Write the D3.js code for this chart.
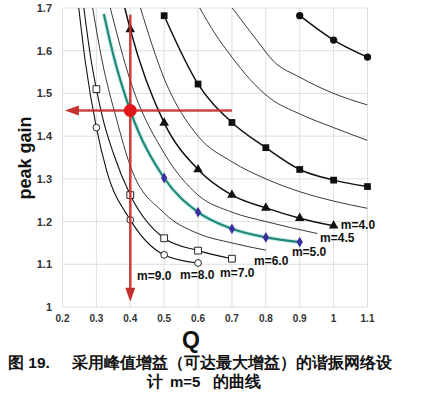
<!DOCTYPE html>
<html>
<head>
<meta charset="utf-8">
<script src="https://cdn.jsdelivr.net/npm/d3@7"></script>
<style>
  body { margin: 0; background: #fff; }
  text { font-family: "Liberation Sans", Arial, sans-serif; }
</style>
</head>
<body>
<div id="chart"></div>
<script>
// tick values and labels
var xTicks = [0.2, 0.3, 0.4, 0.5, 0.6, 0.7, 0.8, 0.9, 1.0, 1.1];
var xTickLabels = ["0.2", "0.3", "0.4", "0.5", "0.6", "0.7", "0.8", "0.9", "1", "1.1"];
var yTicks = [1, 1.1, 1.2, 1.3, 1.4, 1.5, 1.6, 1.7];
var yTickLabels = ["1", "1.1", "1.2", "1.3", "1.4", "1.5", "1.6", "1.7"];

// curves, [Q, peak gain]
var sDots    = [[0.9, 1.682], [1.0, 1.625], [1.1, 1.585]];
var sThinB   = [[0.701, 1.70], [0.773, 1.625], [0.822, 1.576], [0.9, 1.538], [1.0, 1.50], [1.1, 1.473]];
var sThinA   = [[0.605, 1.70], [0.65, 1.64], [0.7, 1.585], [0.753, 1.533], [0.812, 1.489], [0.9, 1.452], [1.0, 1.42], [1.1, 1.39]];
var sSquares = [[0.5, 1.682], [0.6, 1.522], [0.7, 1.432], [0.8, 1.373], [0.9, 1.322], [1.0, 1.297], [1.1, 1.282]];
var sThin35  = [[0.43, 1.70], [0.5, 1.535], [0.6, 1.40], [0.7, 1.34], [0.8, 1.30], [0.9, 1.27], [1.0, 1.248], [1.1, 1.231]];
var m40 = [[0.384, 1.70], [0.4, 1.65], [0.5, 1.431], [0.6, 1.322], [0.7, 1.262], [0.8, 1.232], [0.9, 1.208], [1.0, 1.19]];
var m45 = [[0.341, 1.70], [0.4, 1.53], [0.5, 1.36], [0.6, 1.262], [0.7, 1.222], [0.8, 1.20], [0.952, 1.172]];
var m50 = [[0.322, 1.686], [0.35, 1.59], [0.4, 1.46], [0.5, 1.302], [0.6, 1.222], [0.7, 1.183], [0.8, 1.163], [0.9, 1.152]];
var m60 = [[0.289, 1.70], [0.317, 1.576], [0.36, 1.438], [0.4, 1.33], [0.5, 1.22], [0.6, 1.172], [0.7, 1.15], [0.8, 1.133]];
var m70 = [[0.263, 1.70], [0.282, 1.59], [0.3, 1.51], [0.32, 1.438], [0.35, 1.36], [0.4, 1.262], [0.5, 1.161], [0.6, 1.132], [0.7, 1.113]];
var m80 = [[0.248, 1.70], [0.267, 1.576], [0.3, 1.42], [0.33, 1.32], [0.4, 1.204], [0.5, 1.122], [0.6, 1.103]];

// Q values that carry a marker
var marksDots = [0.9, 1.0, 1.1];
var marksSquares = [0.5, 0.6, 0.7, 0.8, 0.9, 1.0, 1.1];
var marks40 = [0.4, 0.5, 0.6, 0.7, 0.8, 0.9, 1.0];
var marks50 = [0.5, 0.6, 0.7, 0.8, 0.9];
var marks70 = [0.3, 0.4, 0.5, 0.6, 0.7];
var marks80 = [0.3, 0.4, 0.5, 0.6];

// curve labels and where they sit [Q, gain]
var labelText = ["m=4.0", "m=4.5", "m=5.0", "m=6.0", "m=7.0", "m=8.0", "m=9.0"];
var labelAt = [[1.021, 1.192], [0.96, 1.162], [0.877, 1.129], [0.765, 1.108], [0.665, 1.08], [0.547, 1.075], [0.42, 1.073]];

// design point and arrows
var designPoint = [0.4, 1.46];
var arrowDown = [[0.4, 1.684], [0.4, 1.012]];
var arrowLeft = [[0.7, 1.46], [0.207, 1.46]];

var width = 428, height = 398;
var x = d3.scaleLinear().domain([0.2, 1.1]).range([62.5, 367.5]);
var y = d3.scaleLinear().domain([1, 1.7]).range([307, 8]);

var svg = d3.select("#chart").append("svg")
  .attr("width", width)
  .attr("height", height);

// grid
svg.append("g").selectAll("line").data(xTicks).enter().append("line")
  .attr("x1", function(d) { return x(d); }).attr("x2", function(d) { return x(d); })
  .attr("y1", y(1)).attr("y2", y(1.7))
  .attr("stroke", "#dedede").attr("stroke-width", 1);
svg.append("g").selectAll("line").data(yTicks).enter().append("line")
  .attr("y1", function(d) { return y(d); }).attr("y2", function(d) { return y(d); })
  .attr("x1", x(0.2)).attr("x2", x(1.1))
  .attr("stroke", "#dedede").attr("stroke-width", 1);

// tick labels
svg.append("g").selectAll("text").data(xTicks).enter().append("text")
  .attr("x", function(d) { return x(d); })
  .attr("y", 322)
  .attr("text-anchor", "middle")
  .attr("font-size", "10px").attr("font-weight", "bold").attr("fill", "#333")
  .text(function(d, i) { return xTickLabels[i]; });
svg.append("g").selectAll("text").data(yTicks).enter().append("text")
  .attr("x", 52)
  .attr("y", function(d) { return y(d) + 4; })
  .attr("text-anchor", "end")
  .attr("font-size", "11px").attr("font-weight", "bold").attr("fill", "#333")
  .text(function(d, i) { return yTickLabels[i]; });

// axis titles
svg.append("text")
  .attr("transform", "translate(31,158) rotate(-90)")
  .attr("text-anchor", "middle")
  .attr("font-size", "18px").attr("font-weight", "bold").attr("fill", "#111")
  .text("peak gain");
svg.append("text")
  .attr("x", 191).attr("y", 348)
  .attr("text-anchor", "middle")
  .attr("font-size", "23px").attr("font-weight", "bold").attr("fill", "#111")
  .text("Q");

svg.append("clipPath").attr("id", "plot").append("rect")
  .attr("x", x(0.2)).attr("y", y(1.7))
  .attr("width", x(1.1) - x(0.2)).attr("height", y(1) - y(1.7));

var line = d3.line()
  .x(function(d) { return x(d[0]); })
  .y(function(d) { return y(d[1]); })
  .curve(d3.curveMonotoneX);

var curves = [
  { pts: sDots, w: 1.5, c: "#111", marks: marksDots, sym: d3.symbolCircle, size: 42, fill: "#111" },
  { pts: sThinB, w: 0.9, c: "#222" },
  { pts: sThinA, w: 0.9, c: "#222" },
  { pts: sSquares, w: 1.5, c: "#111", marks: marksSquares, sym: d3.symbolSquare, size: 46, fill: "#111" },
  { pts: sThin35, w: 0.9, c: "#222" },
  { pts: m40, w: 1.5, c: "#111", marks: marks40, sym: d3.symbolTriangle, size: 40, fill: "#111" },
  { pts: m45, w: 0.9, c: "#222" },
  { pts: m60, w: 0.9, c: "#222" },
  { pts: m70, w: 1.1, c: "#111", marks: marks70, sym: d3.symbolSquare, size: 46, fill: "#fff" },
  { pts: m80, w: 1.1, c: "#111", marks: marks80, sym: d3.symbolCircle, size: 36, fill: "#fff" }
];

var plot = svg.append("g").attr("clip-path", "url(#plot)");

// teal m=5 curve with a pale halo
plot.append("path").datum(m50).attr("d", line)
  .attr("fill", "none").attr("stroke", "#cdf1ec").attr("stroke-width", 4.5);

curves.forEach(function(cv) {
  plot.append("path").datum(cv.pts).attr("d", line)
    .attr("fill", "none").attr("stroke", cv.c).attr("stroke-width", cv.w);
});

plot.append("path").datum(m50).attr("d", line)
  .attr("fill", "none").attr("stroke", "#23877a").attr("stroke-width", 2.2);

// markers
curves.forEach(function(cv) {
  if (!cv.marks) return;
  var pts = cv.pts.filter(function(p) { return cv.marks.indexOf(p[0]) >= 0; });
  svg.append("g").selectAll("path").data(pts).enter().append("path")
    .attr("d", d3.symbol().type(cv.sym).size(cv.size))
    .attr("transform", function(d) { return "translate(" + x(d[0]) + "," + y(d[1]) + ")"; })
    .attr("fill", cv.fill).attr("stroke", "#111").attr("stroke-width", cv.fill === "#fff" ? 0.9 : 0);
});
var m50marks = m50.filter(function(p) { return marks50.indexOf(p[0]) >= 0; });
svg.append("g").selectAll("path").data(m50marks).enter().append("path")
  .attr("d", d3.symbol().type(d3.symbolDiamond).size(34))
  .attr("transform", function(d) { return "translate(" + x(d[0]) + "," + y(d[1]) + ")"; })
  .attr("fill", "#3a2f9e");

// curve labels
svg.append("g").selectAll("text").data(labelText).enter().append("text")
  .attr("x", function(d, i) { return x(labelAt[i][0]); })
  .attr("y", function(d, i) { return y(labelAt[i][1]) + 4.5; })
  .attr("font-size", "12px").attr("font-weight", "bold").attr("fill", "#111")
  .text(function(d) { return d; });

// red design arrows
var red = "#c4302c";
svg.append("line")
  .attr("x1", x(arrowDown[0][0])).attr("y1", y(arrowDown[0][1]))
  .attr("x2", x(arrowDown[1][0])).attr("y2", y(arrowDown[1][1]) - 12)
  .attr("stroke", red).attr("stroke-width", 2.6).attr("stroke-opacity", 0.9);
svg.append("path")
  .attr("d", "M" + (x(arrowDown[1][0]) - 5) + "," + (y(arrowDown[1][1]) - 14) +
    "L" + (x(arrowDown[1][0]) + 5) + "," + (y(arrowDown[1][1]) - 14) +
    "L" + x(arrowDown[1][0]) + "," + y(arrowDown[1][1]) + "Z")
  .attr("fill", red);
svg.append("line")
  .attr("x1", x(arrowLeft[0][0])).attr("y1", y(arrowLeft[0][1]))
  .attr("x2", x(arrowLeft[1][0]) + 12).attr("y2", y(arrowLeft[1][1]))
  .attr("stroke", red).attr("stroke-width", 2.6).attr("stroke-opacity", 0.9);
svg.append("path")
  .attr("d", "M" + (x(arrowLeft[1][0]) + 14) + "," + (y(arrowLeft[1][1]) - 5) +
    "L" + (x(arrowLeft[1][0]) + 14) + "," + (y(arrowLeft[1][1]) + 5) +
    "L" + x(arrowLeft[1][0]) + "," + y(arrowLeft[1][1]) + "Z")
  .attr("fill", red);
svg.append("circle")
  .attr("cx", x(designPoint[0])).attr("cy", y(designPoint[1]))
  .attr("r", 6.5).attr("fill", "#e3161b");

// caption
var cjk = "'Noto Sans CJK SC', sans-serif";
var cap = svg.append("g").attr("font-weight", "bold").attr("fill", "#111");
cap.append("text").attr("x", 8).attr("y", 368).attr("font-size", "15.5px")
  .attr("font-family", cjk)
  .text("图 19.");
cap.append("text").attr("x", 72).attr("y", 368).attr("font-size", "15.5px")
  .attr("font-family", cjk)
  .text("采用峰值增益（可达最大增益）的谐振网络设");
var line2 = cap.append("text").attr("y", 387).attr("font-size", "15.5px")
  .attr("font-family", cjk);
line2.append("tspan").attr("x", 147).text("计");
line2.append("tspan").attr("x", 170).attr("font-size", "15px")
  .attr("font-family", "'Liberation Sans', Arial, sans-serif").text("m=5");
line2.append("tspan").attr("x", 213).text("的曲线");
</script>
</body>
</html>
